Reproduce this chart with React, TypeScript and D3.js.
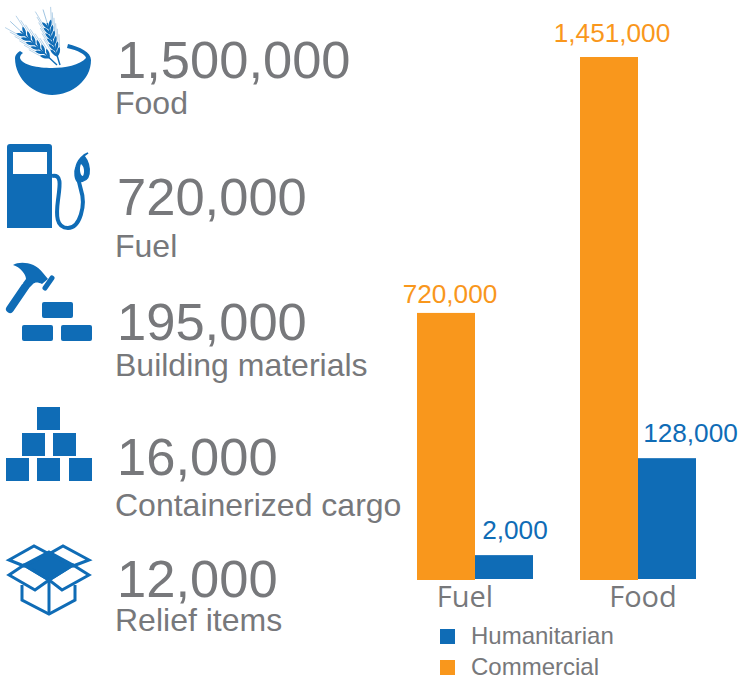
import React from 'react';
import * as d3 from 'd3';

const BLUE = '#0f6cb6';
const ORANGE = '#f9971c';
const GREY = '#77787b';
const SANS = '"Liberation Sans", Arial, sans-serif';

// left column
const totals = ['1,500,000', '720,000', '195,000', '16,000', '12,000'];
const totalNames = ['Food', 'Fuel', 'Building materials', 'Containerized cargo', 'Relief items'];
const totalBaselines = [78, 215, 340, 475, 597];
const nameBaselines = [114, 257, 376, 516, 631];

// bars. The printed labels are not in proportion to the bars in the source picture,
// so the heights are read off the bars as drawn and the labels are kept separately
const categories = ['Fuel', 'Food'];
const seriesNames = ['Commercial', 'Humanitarian'];
const commercialDrawn = [741000, 1451000];
const humanitarianDrawn = [69000, 338000];
const commercialLabels = ['720,000', '1,451,000'];
const humanitarianLabels = ['2,000', '128,000'];
const legendNames = ['Humanitarian', 'Commercial'];
const legendColors = [BLUE, ORANGE];

const x0 = d3.scaleBand<string>().domain(categories).range([417, 696]).paddingInner(47 / 163);
const x1 = d3.scaleBand<string>().domain(seriesNames).range([0, x0.bandwidth()]);
const y = d3.scaleLinear().domain([0, 1451000]).range([580, 57]);

// label offsets from the bar they belong to
const catNudge = [-10, 5];
const commercialNudgeX = [4, 3];
const commercialNudgeY = [10, 15];
const humanitarianNudgeX = [11, 23.5];

const WheatEar = ({ x, y: yy, angle, len }: { x: number; y: number; angle: number; len: number }) => {
  // one ear, drawn pointing up from its foot
  const steps = d3.range(0.22, 1, 0.13);
  return (
    <g transform={`translate(${x},${yy}) rotate(${angle})`}>
      <line x1={0} y1={0} x2={0} y2={-len} stroke={BLUE} strokeWidth={1.4} />
      <line x1={0} y1={-len} x2={0} y2={-len - 14} stroke={BLUE} strokeWidth={0.6} opacity={0.6} />
      {steps.map((t, i) => (
        <g key={i} transform={`translate(0,${-len * t})`}>
          <path d="M0,1 C3,-1 5,-4 5,-8 C2,-7 0,-3 0,1Z" fill={BLUE} />
          <path d="M0,1 C-3,-1 -5,-4 -5,-8 C-2,-7 0,-3 0,1Z" fill={BLUE} />
          <line x1={5} y1={-8} x2={8} y2={-20} stroke={BLUE} strokeWidth={0.5} opacity={0.55} />
          <line x1={-5} y1={-8} x2={-8} y2={-20} stroke={BLUE} strokeWidth={0.5} opacity={0.55} />
        </g>
      ))}
    </g>
  );
};

const FoodIcon = () => (
  <g>
    <WheatEar x={57} y={65} angle={-47} len={50} />
    <WheatEar x={60} y={65} angle={-17} len={44} />
    <path
      d="M15,58 C15,80 35,95 52,95 C72,95 91,80 91,60 C91,52 80,47 68,44 L67,48 C78,50 86,55 86,58 C80,65 65,68 52,68 C38,68 22,65 20,58 C20,56 21,54 23,53 L20,51 C17,53 15,55 15,58Z"
      fill={BLUE}
    />
  </g>
);

const FuelIcon = () => (
  <g>
    <path d="M10,144 H49 Q52,144 52,147 V228 H7 V147 Q7,144 10,144Z" fill={BLUE} />
    <rect x={13} y={152} width={34} height={22} fill="#fff" />
    <path
      d="M52,176 C62,174 60,185 58,200 C56,215 56,228 68,228 C80,228 86,205 81,190 C79,184 78,178 78,172"
      fill="none"
      stroke={BLUE}
      strokeWidth={4}
    />
    <path
      d="M88,153 L84,156 C88,161 90,167 89,174 C88,180 83,182 78,182 C75,180 74,172 76,167 C77,162 80,158 84,155Z"
      fill={BLUE}
      stroke={BLUE}
      strokeWidth={1.5}
    />
    <path d="M81,164 C84,166 85,172 83,176 C80,176 79,168 81,164Z" fill="#fff" />
  </g>
);

const BuildingIcon = () => (
  <g fill={BLUE}>
    <path d="M13,265 C20,261 35,262 43,273 L48,279 L42,284 C38,282 35,282 33,284 L28,289 L23,283 L26,279 C26,274 20,267 13,265Z" />
    <line x1={25} y1={287} x2={10} y2={309} stroke={BLUE} strokeWidth={8} strokeLinecap="round" />
    <line x1={52} y1={278} x2={45} y2={288} stroke={BLUE} strokeWidth={5} strokeLinecap="round" />
    <rect x={42} y={302} width={31} height={16} rx={2} />
    <rect x={22} y={325} width={31} height={16} rx={2} />
    <rect x={61} y={325} width={31} height={16} rx={2} />
  </g>
);

const CargoIcon = () => (
  <g fill={BLUE}>
    <rect x={37} y={407} width={23} height={23} />
    <rect x={22} y={433} width={23} height={23} />
    <rect x={53} y={433} width={23} height={23} />
    <rect x={6} y={458} width={23} height={23} />
    <rect x={37} y={458} width={23} height={23} />
    <rect x={69} y={458} width={23} height={23} />
  </g>
);

const ReliefIcon = () => (
  <g fill="none" stroke={BLUE} strokeWidth={3} strokeLinejoin="miter">
    <path d="M49,552 L73,565 L49,580 L24,565Z" fill={BLUE} />
    <path d="M9,560 L34,546 L49,554 L24,566Z" />
    <path d="M89,560 L63,546 L49,554 L73,566Z" />
    <path d="M9,575 L24,565 L49,580 L35,590Z" />
    <path d="M89,575 L73,565 L49,580 L62,590Z" />
    <path d="M22,585 V600 L49,614 L75,600 V585" />
    <line x1={49} y1={580} x2={49} y2={614} />
  </g>
);

export default function App() {
  return (
    <svg
      width={739}
      height={675}
      viewBox="0 0 739 675"
      style={{ position: 'absolute', left: 0, top: 0, background: '#fff' }}
      fontFamily={SANS}
    >
      <FoodIcon />
      <FuelIcon />
      <BuildingIcon />
      <CargoIcon />
      <ReliefIcon />

      {totals.map((t, i) => (
        <text key={t} x={117} y={totalBaselines[i]} fontSize={52.5} fill={GREY}>
          {t}
        </text>
      ))}
      {totalNames.map((n, i) => (
        <text key={n} x={115} y={nameBaselines[i]} fontSize={32} fill={GREY}>
          {n}
        </text>
      ))}

      {categories.map((c, i) => {
        const gx = x0(c) as number;
        const cx = gx + (x1('Commercial') as number);
        const hx = gx + (x1('Humanitarian') as number);
        const w = x1.bandwidth();
        return (
          <g key={c}>
            <rect x={cx} y={y(commercialDrawn[i])} width={w} height={y(0) - y(commercialDrawn[i])} fill={ORANGE} />
            <rect x={hx} y={y(humanitarianDrawn[i])} width={w} height={y(0) - y(humanitarianDrawn[i]) - 1} fill={BLUE} />
            <text
              x={cx + w / 2 + commercialNudgeX[i]}
              y={y(commercialDrawn[i]) - commercialNudgeY[i]}
              textAnchor="middle"
              fontSize={26.2}
              fill={ORANGE}
            >
              {commercialLabels[i]}
            </text>
            <text
              x={hx + w / 2 + humanitarianNudgeX[i]}
              y={y(humanitarianDrawn[i]) - 16}
              textAnchor="middle"
              fontSize={26.2}
              fill={BLUE}
            >
              {humanitarianLabels[i]}
            </text>
            <text
              x={gx + x0.bandwidth() / 2 + catNudge[i]}
              y={607}
              textAnchor="middle"
              fontSize={29}
              fontFamily='"Open Sans", sans-serif'
              fill={GREY}
            >
              {c}
            </text>
          </g>
        );
      })}

      {legendNames.map((n, i) => (
        <g key={n} transform={`translate(0,${629 + i * 31})`}>
          <rect x={440} y={0} width={15} height={15} fill={legendColors[i]} />
          <text x={471} y={14.5} fontSize={24} fill={GREY}>
            {n}
          </text>
        </g>
      ))}
    </svg>
  );
}
